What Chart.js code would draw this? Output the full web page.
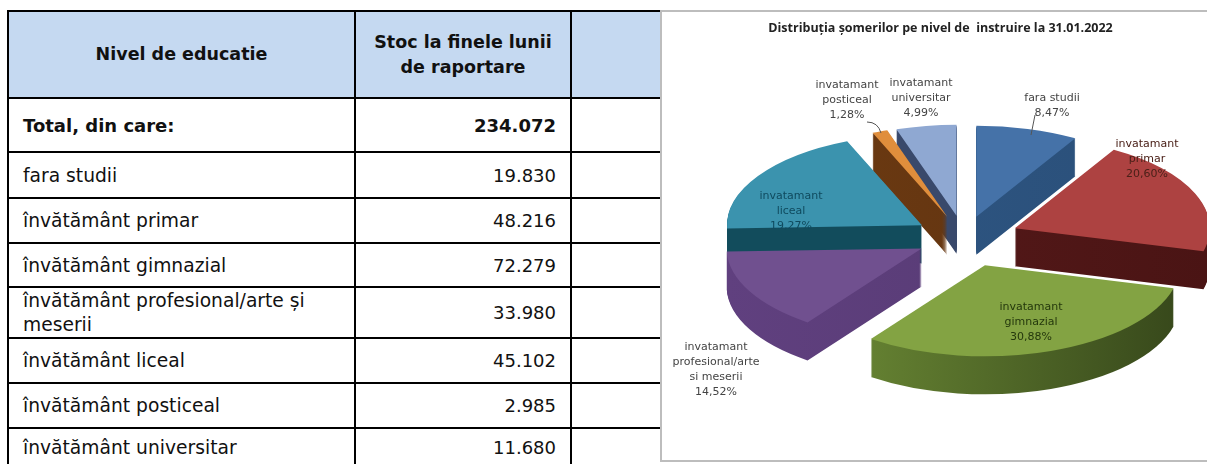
<!DOCTYPE html>
<html>
<head>
<meta charset="utf-8">
<title>Distribuția șomerilor</title>
<script src="https://cdn.jsdelivr.net/npm/chart.js@4"></script>
<style>
    html, body { margin: 0; padding: 0; background: #fff; overflow: hidden; width: 1207px; height: 464px; }
    #tabel {
        position: absolute; left: 7px; top: 10px; width: 654px;
        border-collapse: collapse; table-layout: fixed;
        font-family: "DejaVu Sans", sans-serif; font-size: 18px; color: #111;
    }
    #tabel td, #tabel th { border: 2px solid #000; padding: 0 14px; line-height: 25px; }
    #tabel th { background: #c5d9f1; font-weight: bold; font-size: 17.5px; text-align: center; }
    #tabel td:first-child { font-size: 18.7px; }
    #tabel td:nth-child(2) { text-align: right; }
    #tabel td:last-child, #tabel th:last-child { border-right: none; }
    #tabel tr:last-child td { border-bottom: none; }
    #tabel .bold td { font-weight: bold; font-size: 18px; }
    #tabel td.lung { line-height: 24px; }
    #cadru {
        position: absolute; left: 660px; top: 10px; width: 547px; height: 452px; box-sizing: border-box;
        border: 2px solid #bdbdbd; border-right: none; background: #fff;
    }
    #chart { position: absolute; left: 660px; top: 0; filter: blur(0.7px); }
</style>
</head>
<body>
<table id="tabel">
    <colgroup><col style="width:347px"><col style="width:216px"><col></colgroup>
    <tbody id="rows"></tbody>
</table>
<div id="cadru"></div>
<canvas id="chart" width="547" height="464"></canvas>
<script>
const tableHead = ["Nivel de educatie", "Stoc la finele lunii<br>de raportare", ""];
const totalLabel = "Total, din care:";
const totalValue = "234.072";
const tableLabels = ["fara studii", "învătământ primar", "învătământ gimnazial", "învătământ profesional/arte și meserii", "învătământ liceal", "învătământ posticeal", "învătământ universitar"];
const tableValues = ["19.830", "48.216", "72.279", "33.980", "45.102", "2.985", "11.680"];
const rowHeights = [87, 54, 46, 45, 44, 51, 45, 45, 37];

const pieLabels = ["fara studii", "invatamant primar", "invatamant gimnazial", "invatamant profesional/arte si meserii", "invatamant liceal", "invatamant posticeal", "invatamant universitar"];
const pieValues = [19830, 48216, 72279, 33980, 45102, 2985, 11680];
const chartTitle = "Distribuția șomerilor pe nivel de  instruire la 31.01.2022";

// styles
const topColors = ["#4572a8", "#ad4241", "#83a343", "#70508f", "#3b93ae", "#e08e3c", "#8fa8d2"];
const wallColors = [["#2f5784", "#2a4f79"], ["#571a1a", "#4a1414"], ["#6f8e37", "#37481b"], ["#60407f", "#553a72"], ["#124c5c", "#124c5c"], ["#6e3b12", "#5e3210"], ["#39496b", "#39496b"]];
const explode = [47, 55, 62, 48, 50, 48, 48];
const drawOrder = [6, 5, 0, 4, 1, 3, 2];
const pieCenter = { x: 304, y: 238 };
const tilt = 0.467;
const depth = 38;

const labelLines = [
    ["fara studii", "8,47%"],
    ["invatamant", "primar", "20,60%"],
    ["invatamant", "gimnazial", "30,88%"],
    ["invatamant", "profesional/arte", "si meserii", "14,52%"],
    ["invatamant", "liceal", "19,27%"],
    ["invatamant", "posticeal", "1,28%"],
    ["invatamant", "universitar", "4,99%"]
];
const labelSpots = [[392, 98], [487, 144], [371, 307], [56, 347], [131, 196], [187, 85], [261, 83]];
const labelColors = ["#444", "#4a2018", "#24380c", "#444", "#0f4a5e", "#444", "#444"];

function fillTable() {
    const rows = document.getElementById("rows");
    let html = "<tr style='height:" + rowHeights[0] + "px'>" + tableHead.map(h => "<th>" + h + "</th>").join("") + "</tr>";
    html += "<tr class='bold' style='height:" + rowHeights[1] + "px'><td>" + totalLabel + "</td><td>" + totalValue + "</td><td></td></tr>";
    tableLabels.forEach((label, i) => {
        const cls = label.length > 30 ? " class='lung'" : "";
        html += "<tr style='height:" + rowHeights[i + 2] + "px'><td" + cls + ">" + label + "</td><td>" + tableValues[i] + "</td><td></td></tr>";
    });
    rows.innerHTML = html;
}

// draws the arcs of the pie tilted, with a wall under each pushed out slice
const tiltedPie = {
    id: "tiltedPie",
    beforeDatasetDraw(chart) {
        const ctx = chart.ctx;
        const arcs = chart.getDatasetMeta(0).data;
        drawOrder.forEach(i => {
            const arc = arcs[i];
            const base = arc.options;
            const mid = (arc.startAngle + arc.endAngle) / 2;
            const dx = Math.cos(mid) * explode[i];
            const dy = Math.sin(mid) * explode[i];
            const place = (shift) => {
                ctx.translate(pieCenter.x, pieCenter.y + shift);
                ctx.scale(1, tilt);
                ctx.translate(dx - arc.x, dy - arc.y);
            };
            const wall = ctx.createLinearGradient(arc.x - arc.outerRadius, 0, arc.x + arc.outerRadius, 0);
            wall.addColorStop(0, wallColors[i][0]);
            wall.addColorStop(1, wallColors[i][1]);
            for (let d = depth; d > 0; d--) {
                ctx.save();
                place(d);
                arc.options = { ...base, backgroundColor: wall };
                arc.draw(ctx);
                ctx.restore();
            }
            ctx.save();
            place(0);
            arc.options = base;
            arc.draw(ctx);
            ctx.restore();
        });
        return false;
    },
    afterDraw(chart) {
        const ctx = chart.ctx;
        ctx.save();
        ctx.font = "11px 'DejaVu Sans', sans-serif";
        ctx.textAlign = "center";
        ctx.textBaseline = "middle";
        labelLines.forEach((lines, i) => {
            ctx.fillStyle = labelColors[i];
            lines.forEach((line, j) => ctx.fillText(line, labelSpots[i][0], labelSpots[i][1] + j * 15));
        });
        ctx.strokeStyle = "#555";
        ctx.lineWidth = 1;
        ctx.beginPath();
        ctx.moveTo(375, 115);
        ctx.lineTo(371, 135);
        ctx.moveTo(207, 122);
        ctx.quadraticCurveTo(218, 122, 221, 133);
        ctx.stroke();
        ctx.restore();
    }
};

function renderChart(chartId) {
    new Chart(chartId, {
        type: "pie",
        data: {
            labels: pieLabels,
            datasets: [{
                data: pieValues,
                backgroundColor: topColors,
                borderWidth: 0
            }]
        },
        options: {
            responsive: false,
            animation: false,
            radius: 195,
            layout: { padding: { left: 14 } },
            plugins: {
                legend: { display: false },
                tooltip: { enabled: false },
                title: {
                    display: true,
                    text: chartTitle,
                    color: "#222",
                    font: { family: "'Open Sans', sans-serif", size: 12.5, weight: "bold" },
                    padding: { top: 21, bottom: 0 }
                }
            }
        },
        plugins: [tiltedPie]
    });
}

fillTable();
renderChart("chart");
</script>
</body>
</html>
